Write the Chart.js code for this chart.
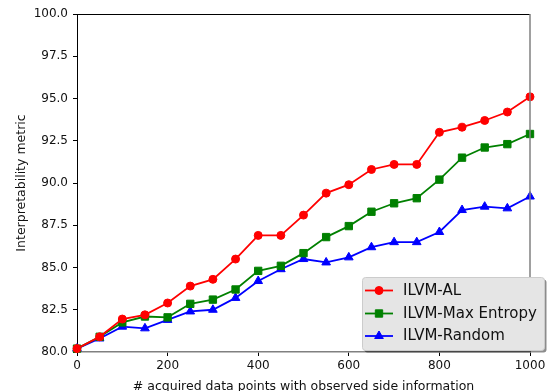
<!DOCTYPE html>
<html>
<head>
<meta charset="utf-8">
<script src="https://cdn.jsdelivr.net/npm/chart.js@4.4.0/dist/chart.umd.min.js"></script>
<style>
  html, body { margin: 0; padding: 0; background: #fff; }
  #wrap { width: 549px; height: 391px; }
</style>
</head>
<body>
<div id="wrap"><canvas id="c" width="549" height="391"></canvas></div>
<script>
// datos
const puntos = [0, 50, 100, 150, 200, 250, 300, 350, 400, 450, 500, 550, 600, 650, 700, 750, 800, 850, 900, 950, 1000];
const ilvmAL = [80.2, 80.9, 81.95, 82.2, 82.9, 83.9, 84.3, 85.5, 86.9, 86.9, 88.1, 89.4, 89.9, 90.8, 91.1, 91.1, 93.0, 93.3, 93.7, 94.2, 95.1];
const ilvmMaxEnt = [80.2, 80.9, 81.75, 82.1, 82.05, 82.85, 83.1, 83.7, 84.8, 85.1, 85.85, 86.8, 87.45, 88.3, 88.8, 89.1, 90.2, 91.5, 92.1, 92.3, 92.9];
const ilvmRandom = [80.2, 80.8, 81.5, 81.4, 81.9, 82.4, 82.5, 83.2, 84.2, 84.9, 85.5, 85.3, 85.6, 86.2, 86.5, 86.5, 87.1, 88.4, 88.6, 88.5, 89.2];
const nombres = ['ILVM-AL', 'ILVM-Max Entropy', 'ILVM-Random'];
const colores = ['#ff0000', '#008000', '#0000ff'];
const estilos = ['circle', 'rect', 'triangle'];
const radios = [4, 5.2, 5];
const yTicks = [80, 82.5, 85, 87.5, 90, 92.5, 95, 97.5, 100];
const xTicks = [0, 200, 400, 600, 800, 1000];
const tituloX = '# acquired data points with observed side information';
const tituloY = 'Interpretability metric';

const FUENTE = '"DejaVu Sans", sans-serif';

function serie(valores) {
    return puntos.map((x, i) => ({ x: x, y: valores[i] }));
}

const series = [ilvmAL, ilvmMaxEnt, ilvmRandom].map((v, i) => ({
    label: nombres[i],
    data: serie(v),
    borderColor: colores[i],
    backgroundColor: colores[i],
    pointBackgroundColor: colores[i],
    pointBorderColor: colores[i],
    pointStyle: estilos[i],
    pointRadius: radios[i],
    pointBorderWidth: 1,
    borderWidth: 1.8,
    tension: 0,
    fill: false,
    clip: false
}));

// marco, titulos y leyenda estilo matplotlib
const extras = {
    id: 'extras',
    afterDraw(chart) {
        const ctx = chart.ctx;
        const a = chart.chartArea;
        ctx.save();
        // borde superior negro y derecho gris
        ctx.lineWidth = 1;
        ctx.strokeStyle = '#000';
        ctx.beginPath();
        ctx.moveTo(a.left, a.top + 0.5);
        ctx.lineTo(a.right, a.top + 0.5);
        ctx.stroke();
        ctx.strokeStyle = '#808080';
        ctx.lineWidth = 1.5;
        ctx.beginPath();
        ctx.moveTo(a.right, a.top);
        ctx.lineTo(a.right, a.bottom);
        ctx.stroke();

        // titulos de los ejes
        ctx.fillStyle = '#111';
        ctx.font = '12.5px ' + FUENTE;
        ctx.textAlign = 'center';
        ctx.textBaseline = 'alphabetic';
        ctx.fillText(tituloX, (a.left + a.right) / 2, 390);
        ctx.save();
        ctx.translate(25, (a.top + a.bottom) / 2);
        ctx.rotate(-Math.PI / 2);
        ctx.fillText(tituloY, 0, 0);
        ctx.restore();

        // leyenda
        const lx = 362, ly = 277, lw = 182, lh = 73;
        ctx.fillStyle = 'rgba(0,0,0,0.45)';
        ctx.beginPath();
        ctx.roundRect(lx + 2.5, ly + 2.5, lw, lh, 3);
        ctx.fill();
        ctx.fillStyle = '#e5e5e5';
        ctx.strokeStyle = '#cccccc';
        ctx.lineWidth = 1;
        ctx.beginPath();
        ctx.roundRect(lx + 0.5, ly + 0.5, lw, lh, 3);
        ctx.fill();
        ctx.stroke();

        const filas = [290.5, 313.5, 336];
        chart.data.datasets.forEach((ds, i) => {
            const y = filas[i];
            ctx.strokeStyle = ds.borderColor;
            ctx.lineWidth = 1.8;
            ctx.beginPath();
            ctx.moveTo(365, y);
            ctx.lineTo(393, y);
            ctx.stroke();
            ctx.fillStyle = ds.borderColor;
            ctx.lineWidth = 1;
            Chart.helpers.drawPoint(ctx, {
                pointStyle: ds.pointStyle,
                radius: ds.pointRadius,
                borderWidth: 1,
                rotation: 0
            }, 379, y);
            ctx.fillStyle = '#111';
            ctx.font = '15px ' + FUENTE;
            ctx.textAlign = 'left';
            ctx.textBaseline = 'middle';
            ctx.fillText(ds.label, 403, y + 0.5);
        });
        ctx.restore();
    }
};

const ctx = document.getElementById('c').getContext('2d');
new Chart(ctx, {
    type: 'line',
    data: { datasets: series },
    options: {
        responsive: false,
        animation: false,
        layout: { padding: { top: 14, right: 19, bottom: 0, left: 0 } },
        plugins: {
            legend: { display: false },
            tooltip: { enabled: false }
        },
        scales: {
            x: {
                type: 'linear',
                min: 0,
                max: 1000,
                afterBuildTicks: (s) => { s.ticks = xTicks.map(v => ({ value: v })); },
                afterFit: (s) => { s.height = 39; },
                ticks: {
                    color: '#111',
                    font: { family: FUENTE, size: 12 },
                    padding: 3,
                    maxRotation: 0,
                    callback: (v) => String(v)
                },
                grid: { drawOnChartArea: false, drawTicks: true, tickLength: 4, tickColor: '#000', tickWidth: 1 },
                border: { display: true, color: '#808080', width: 1.5 }
            },
            y: {
                type: 'linear',
                min: 80,
                max: 100,
                afterBuildTicks: (s) => { s.ticks = yTicks.map(v => ({ value: v })); },
                afterFit: (s) => { s.width = 77; },
                ticks: {
                    color: '#111',
                    font: { family: FUENTE, size: 12 },
                    padding: 5,
                    callback: (v) => v.toFixed(1)
                },
                grid: { drawOnChartArea: false, drawTicks: true, tickLength: 4, tickColor: '#000', tickWidth: 1 },
                border: { display: true, color: '#000', width: 1 }
            }
        }
    },
    plugins: [extras]
});
</script>
</body>
</html>
